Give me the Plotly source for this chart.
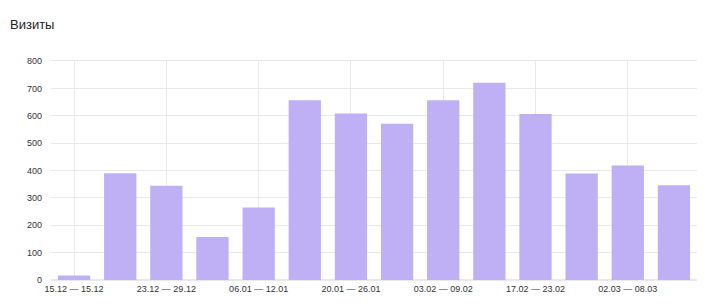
import plotly.graph_objects as go

weeks = ["15.12 — 15.12", "16.12 — 22.12", "23.12 — 29.12", "30.12 — 05.01",
         "06.01 — 12.01", "13.01 — 19.01", "20.01 — 26.01", "27.01 — 02.02",
         "03.02 — 09.02", "10.02 — 16.02", "17.02 — 23.02", "24.02 — 01.03",
         "02.03 — 08.03", "09.03 — 15.03"]
visits = [16, 390, 344, 157, 265, 657, 608, 571, 657, 721, 606, 389, 418, 346]
y_ticks = [0, 100, 200, 300, 400, 500, 600, 700, 800]
shown_weeks = weeks[::2]

fig = go.Figure(go.Bar(x=weeks, y=visits, marker=dict(color="#bfb0f6", line=dict(width=0))))

fig.update_layout(
    width=720, height=307,
    margin=dict(l=51, r=23, t=61, b=27),
    paper_bgcolor="white", plot_bgcolor="white",
    bargap=0.3,
    showlegend=False,
    font=dict(family="Arial, Liberation Sans, sans-serif", color="#333333", size=9),
)
fig.add_annotation(text="Визиты", xref="paper", yref="paper", x=-43/646, y=1 + (61 - 24) / 219,
                   xanchor="left", yanchor="middle", showarrow=False,
                   font=dict(size=13, color="#222222"))

fig.update_xaxes(
    type="category", tickvals=shown_weeks, ticktext=shown_weeks,
    showgrid=True, gridcolor="#e9e9e9", gridwidth=1,
    showline=True, linecolor="#e9e9e9", mirror=True,
    ticks="", automargin=False, tickfont=dict(size=9, color="#333333"),
)
fig.update_yaxes(
    range=[0, 800], tickvals=y_ticks,
    showgrid=True, gridcolor="#e9e9e9", gridwidth=1,
    zeroline=True, zerolinecolor="#e9e9e9",
    showline=False, ticks="", ticklabelstandoff=8, automargin=False,
    tickfont=dict(size=9, color="#333333"),
)

fig.write_html("out.html")
